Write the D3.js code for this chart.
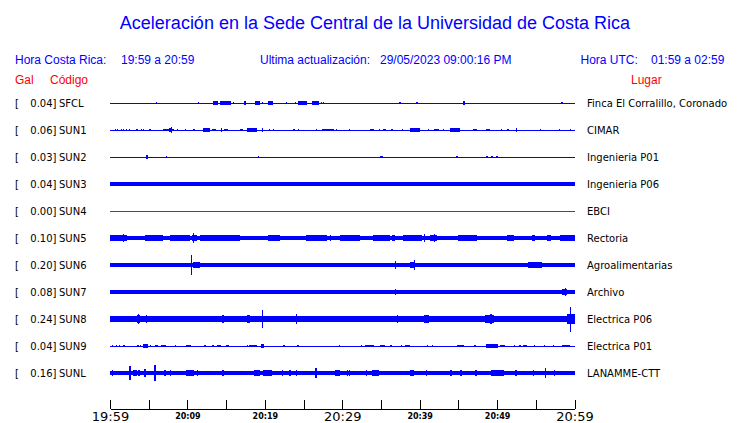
<!DOCTYPE html>
<html><head><meta charset="utf-8">
<script src="https://cdn.jsdelivr.net/npm/d3@7"></script>
<style>
html,body{margin:0;padding:0;background:#fff;}
svg{display:block;}
</style></head>
<body>
<svg id="chart" width="740" height="423"></svg>
<script>
// ---------------- DATA ----------------
const titleText = "Aceleración en la Sede Central de la Universidad de Costa Rica";
const headerLocal = ["Hora Costa Rica:", "19:59 a 20:59"];
const headerUpdate = ["Ultima actualización:", "29/05/2023 09:00:16 PM"];
const headerUTC = ["Hora UTC:", "01:59 a 02:59"];
const colHeaders = ["Gal", "Código", "Lugar"];

const stations = ["SFCL","SUN1","SUN2","SUN3","SUN4","SUN5","SUN6","SUN7","SUN8","SUN9","SUNL"];
const peakGal  = [0.04, 0.06, 0.03, 0.04, 0.00, 0.10, 0.20, 0.08, 0.24, 0.04, 0.16];
const places   = ["Finca El Corralillo, Coronado","CIMAR","Ingenieria P01","Ingenieria P06","EBCI","Rectoria",
                  "Agroalimentarias","Archivo","Electrica P06","Electrica P01","LANAMME-CTT"];
// background noise level (Gal) of each trace
const noiseGal = [0, 0, 0, 0.036, 0, 0.045, 0.04, 0.037, 0.05, 0, 0.045];

// time axis: minutes after 19:59
const tickMinutes = [0,5,10,15,20,25,30,35,40,45,50,55,60];
const tickLabels  = ["19:59","","20:09","","20:19","","20:29","","20:39","","20:49","","20:59"];
const majorLabels = ["19:59","20:29","20:59"];

// events per trace: [start minute, end minute, amplitude Gal]
const evSFCL = [[5.95,5.95,0.025],[11.38,11.38,0.012],[13.32,13.97,0.03],[14.22,15.65,0.035],[15.91,15.91,0.02],
  [17.33,17.59,0.035],[18.75,19.40,0.035],[19.66,19.66,0.02],[20.43,21.08,0.035],[22.76,22.76,0.015],
  [23.92,23.92,0.015],[24.31,25.47,0.035],[26.12,27.03,0.035],[26.7,26.7,0.045],[27.29,27.29,0.02],[27.54,27.54,0.02],
  [37.37,37.37,0.025],[39.57,39.57,0.025],[45.65,45.65,0.045],[58.32,58.32,0.015]];
const evSUN1 = [[0.65,0.65,0.02],[0.94,0.94,0.02],[1.38,1.38,0.02],[1.64,1.64,0.02],[2.07,2.07,0.02],[2.42,2.42,0.015],
  [3.36,3.58,0.02],[3.97,3.97,0.02],[4.23,4.23,0.02],[5.08,5.08,0.02],[6.81,8.28,0.025],[7.6,8.0,0.04],[7.89,7.89,0.06],
  [8.63,8.63,0.015],[9.70,9.70,0.02],[10.77,10.77,0.015],[12.07,12.93,0.03],[12.80,12.80,0.045],[13.23,13.71,0.025],
  [14.35,14.35,0.035],[14.74,15.26,0.02],[16.81,17.24,0.02],[17.68,18.97,0.03],[18.45,18.45,0.04],[19.62,19.62,0.03],
  [20.56,20.56,0.02],[21.04,21.04,0.02],[23.70,23.70,0.02],[24.22,24.22,0.02],[26.55,26.55,0.02],[27.41,28.88,0.025],
  [29.22,29.22,0.02],[30.82,30.82,0.02],[33.53,34.14,0.025],[34.69,34.69,0.02],[35.26,35.60,0.025],[36.34,36.34,0.015],
  [37.72,37.72,0.02],[38.79,40.09,0.03],[39.44,39.44,0.04],[41.03,41.03,0.02],[41.81,42.51,0.025],[42.97,42.97,0.02],
  [43.97,45.26,0.03],[46.90,47.42,0.025],[48.58,49.14,0.025],[50.47,50.47,0.02],[51.30,51.51,0.025],[52.41,52.41,0.03],
  [55.51,55.51,0.02],[57.97,57.97,0.02],[59.39,59.39,0.02]];
const evSUN2 = [[4.6,4.9,0.03],[7.24,7.24,0.015],[19.14,19.14,0.015],[34.91,35.30,0.025],[44.74,44.74,0.015],
  [48.62,48.62,0.02],[49.27,49.40,0.025],[49.92,49.92,0.02]];
const evSUN3 = [[4.5,4.95,0.045],[45.26,45.26,0.045],[49.14,49.14,0.045],[57.93,57.93,0.042]];
const evSUN4 = [];
const evSUN5 = [[0,2.20,0.055],[1.64,1.64,0.07],[4.53,6.85,0.055],[6.47,6.47,0.065],[7.76,10.34,0.055],[10.57,11.21,0.065],
  [10.73,10.73,0.10],[11.64,16.81,0.05],[20.43,21.98,0.055],[21.21,21.21,0.065],[25.35,28.06,0.055],[26.73,26.73,0.065],
  [28.45,28.45,0.055],[29.74,32.33,0.055],[30.61,30.61,0.06],[34.01,36.21,0.05],[36.43,36.85,0.065],[37.89,40.31,0.055],
  [40.51,40.51,0.07],[41.38,42.25,0.06],[41.81,41.81,0.075],[45.00,47.42,0.05],[51.30,52.15,0.055],[54.53,54.96,0.055],
  [56.47,56.90,0.055],[58.19,60,0.055]];
const evSUN6 = [[9.70,10.09,0.045],[10.47,10.47,0.20],[10.73,11.64,0.05],[17.46,17.46,0.045],[24.57,24.57,0.045],
  [30.61,31.90,0.045],[35.78,36.21,0.045],[36.85,36.85,0.075],[38.79,39.44,0.05],[39.22,39.22,0.09],[54.05,55.82,0.05]];
const evSUN7 = [[7.11,7.11,0.045],[18.10,18.10,0.04],[29.74,30.61,0.042],[36.43,37.50,0.042],[36.77,36.77,0.065],
  [43.97,44.61,0.042],[51.72,52.59,0.042],[58.41,59.06,0.05],[58.71,58.71,0.08]];
const evSUN8 = [[0,2.24,0.06],[3.45,3.88,0.07],[3.58,3.58,0.095],[4.31,5.39,0.065],[4.66,4.66,0.08],[5.82,7.11,0.055],
  [9.05,9.48,0.055],[10.13,11.64,0.055],[13.36,14.87,0.065],[14.52,14.52,0.08],[16.81,19.18,0.06],[17.68,18.10,0.08],
  [19.66,19.66,0.18],[20.69,22.85,0.06],[23.92,24.79,0.065],[24.05,24.05,0.09],[25.86,27.16,0.06],[29.32,29.74,0.055],
  [30.61,34.49,0.065],[34.91,35.56,0.06],[36.43,38.37,0.065],[37.07,37.07,0.075],[40.51,41.16,0.07],[40.86,40.86,0.085],
  [41.81,44.83,0.06],[45.48,46.33,0.065],[48.49,49.57,0.07],[49.14,49.14,0.09],[51.95,52.37,0.06],[52.59,55.60,0.06],
  [57.12,57.77,0.055],[59.06,60,0.09],[59.39,59.39,0.24]];
const evSUN9 = [[0.22,0.22,0.02],[0.78,0.78,0.02],[1.20,1.20,0.02],[1.72,1.72,0.015],[3.53,3.53,0.02],[3.88,3.88,0.02],
  [4.23,4.95,0.03],[5.17,5.17,0.02],[5.82,6.25,0.02],[6.60,7.20,0.025],[8.41,8.41,0.015],[9.83,9.83,0.02],
  [10.00,10.47,0.02],[12.19,12.19,0.015],[13.23,13.23,0.015],[13.80,14.32,0.02],[15.00,15.43,0.02],[17.68,17.68,0.015],
  [17.97,18.97,0.025],[19.49,19.91,0.045],[22.41,22.41,0.015],[24.14,24.40,0.025],[29.57,29.57,0.02],[32.42,32.42,0.015],
  [32.98,34.05,0.02],[34.91,35.56,0.025],[36.21,36.21,0.015],[37.59,37.59,0.015],[38.06,38.70,0.02],[40.95,40.95,0.015],
  [41.60,41.60,0.015],[44.83,45.69,0.025],[46.98,47.29,0.02],[48.58,50.08,0.03],[50.43,51.08,0.02],[52.15,52.15,0.015],
  [52.89,52.89,0.015],[53.37,53.88,0.02],[54.74,54.74,0.015],[56.03,56.03,0.015],[57.20,57.20,0.015],[58.41,59.39,0.025]];
const evSUNL = [[0.22,0.22,0.05],[2.50,2.50,0.135],[3.01,3.45,0.055],[3.66,3.88,0.06],[4.40,4.66,0.08],[5.73,5.73,0.16],
  [7.02,7.02,0.05],[7.76,7.76,0.05],[9.83,10.86,0.06],[11.21,11.21,0.05],[14.52,14.52,0.05],[18.62,19.40,0.055],
  [19.18,19.18,0.065],[19.82,20.91,0.06],[22.20,22.20,0.05],[23.06,23.37,0.055],[24.05,24.05,0.05],[26.51,26.73,0.09],
  [29.10,29.65,0.06],[30.61,30.61,0.05],[30.82,30.82,0.055],[33.07,33.07,0.05],[33.84,34.69,0.055],[38.79,39.22,0.055],
  [40.83,40.83,0.05],[43.97,43.97,0.05],[45.26,45.26,0.05],[47.20,47.20,0.05],[49.23,50.86,0.055],[50.65,50.65,0.065],
  [52.37,52.37,0.05],[54.61,54.61,0.05],[56.16,56.16,0.09],[57.33,57.33,0.05]];
const events = [evSFCL, evSUN1, evSUN2, evSUN3, evSUN4, evSUN5, evSUN6, evSUN7, evSUN8, evSUN9, evSUNL];

// ---------------- CHART ----------------
const svg = d3.select("#chart");
const blue = "#0000ff", red = "#ff0000";
const headFont = "'Liberation Sans', Arial, sans-serif";
const labFont = "'DejaVu Sans', sans-serif";

const x = d3.scaleLinear().domain([0, 60]).range([110, 574.5]);
const y = d3.scalePoint().domain(stations).range([103, 373]);
const amp = d3.scaleLinear().domain([0, 0.24]).range([0, 12.5]);

// title
svg.append("text").attr("x", 375).attr("y", 29).attr("text-anchor", "middle")
  .attr("font-family", headFont).attr("font-size", 18).attr("fill", blue).text(titleText);

// header line
const hdr = svg.append("g").attr("font-family", headFont).attr("font-size", 12).attr("fill", blue);
hdr.append("text").attr("x", 15).attr("y", 64).text(headerLocal[0]);
hdr.append("text").attr("x", 121).attr("y", 64).text(headerLocal[1]);
hdr.append("text").attr("x", 260).attr("y", 64).text(headerUpdate[0]);
hdr.append("text").attr("x", 380).attr("y", 64).text(headerUpdate[1]);
hdr.append("text").attr("x", 580.5).attr("y", 64).text(headerUTC[0]);
hdr.append("text").attr("x", 651).attr("y", 64).text(headerUTC[1]);

const ch = svg.append("g").attr("font-family", headFont).attr("font-size", 12).attr("fill", red);
ch.append("text").attr("x", 15).attr("y", 84).text(colHeaders[0]);
ch.append("text").attr("x", 50).attr("y", 84).text(colHeaders[1]);
ch.append("text").attr("x", 631).attr("y", 84).text(colHeaders[2]);

// rows
const rows = svg.append("g").selectAll("g.row").data(stations).join("g")
  .attr("class", "row").attr("transform", d => `translate(0,${y(d)})`);

rows.append("text").attr("x", 15).attr("y", 4).attr("font-family", labFont).attr("font-size", 10)
  .attr("fill", "#000").text("[");
rows.append("text").attr("x", 56.5).attr("y", 4).attr("text-anchor", "end").attr("font-family", labFont)
  .attr("font-size", 10).attr("fill", "#000").text((d, i) => peakGal[i].toFixed(2) + "]");
rows.append("text").attr("x", 59).attr("y", 4).attr("font-family", labFont).attr("font-size", 10)
  .attr("fill", "#000").text(d => d);
rows.append("text").attr("x", 587).attr("y", 4).attr("font-family", labFont).attr("font-size", 10)
  .attr("fill", "#000").text((d, i) => places[i]);

const traces = rows.append("g").attr("shape-rendering", "crispEdges")
  .attr("fill", (d, i) => peakGal[i] === 0 ? red : blue);
traces.append("rect").attr("x", x(0)).attr("width", x(60) - x(0) + 0.5)
  .attr("y", (d, i) => -Math.max(0.5, amp(noiseGal[i])))
  .attr("height", (d, i) => Math.max(1, 2 * amp(noiseGal[i])));
traces.each(function(d, i) {
  d3.select(this).selectAll("rect.ev").data(events[i]).join("rect").attr("class", "ev")
    .attr("x", e => x(e[0]))
    .attr("width", e => Math.max(1.2, x(e[1]) - x(e[0])))
    .attr("y", e => -amp(e[2]))
    .attr("height", e => 2 * amp(e[2]));
});

// time axis
const axis = d3.axisBottom(x).tickValues(tickMinutes).tickSizeInner(-9).tickSizeOuter(0)
  .tickFormat((d, i) => tickLabels[i]);
const ax = svg.append("g").attr("transform", "translate(0,409)").call(axis);
ax.select(".domain").attr("stroke", "#000").attr("shape-rendering", "crispEdges");
ax.selectAll(".tick line").attr("stroke", "#000").attr("shape-rendering", "crispEdges");
ax.selectAll(".tick text").attr("fill", "#000").attr("dy", null)
  .attr("font-family", labFont)
  .each(function(d, i) {
    const t = d3.select(this);
    if (majorLabels.includes(tickLabels[i])) t.attr("font-size", 13).attr("font-weight", "normal").attr("y", 12);
    else t.attr("font-size", 8).attr("font-weight", "bold").attr("y", 10);
  });
</script>
</body></html>
